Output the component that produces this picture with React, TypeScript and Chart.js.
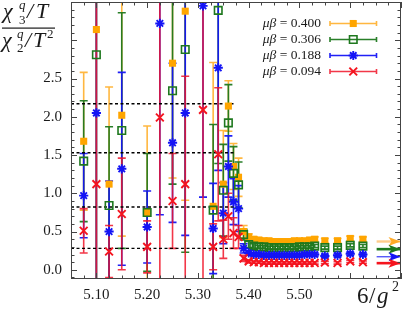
import React, { useEffect, useRef } from 'react';
import { Chart, registerables } from 'chart.js';
import { drawPoint } from 'chart.js/helpers';

Chart.register(...registerables);

// ---------------- data ----------------
const betas = [5.075, 5.10, 5.125, 5.15, 5.20, 5.225, 5.25, 5.275, 5.31, 5.33, 5.34, 5.35, 5.36, 5.37, 5.38,
  5.39, 5.40, 5.41, 5.42, 5.43, 5.44, 5.45, 5.46, 5.47, 5.48, 5.49, 5.50, 5.51, 5.52, 5.53,
  5.55, 5.575, 5.60, 5.625];

const orangeVals = [1.68, 3.14, 1.12, 2.02, 0.75, null, 2.70, 3.38, null, 0.83, null, 1.12, 2.14, 1.35, 1.21,
  0.50, 0.43, 0.40, 0.39, 0.38, 0.38, 0.37, 0.37, 0.37, 0.37, 0.38, 0.38, 0.38, 0.39, 0.40,
  0.38, 0.38, 0.41, 0.40];
const orangeErr = [0.90, 5, 1.27, 1.58, 1.13, null, 1.5, 2.47, null, 1.88, null, 0.70, 0.33, 0.30, 0.25,
  0.08, 0.04, 0.03, 0.03, 0.03, 0.02, 0.02, 0.02, 0.02, 0.02, 0.02, 0.02, 0.02, 0.02, 0.03,
  0.03, 0.03, 0.03, 0.03];

const greenVals = [1.42, 2.81, 0.84, 1.82, 0.75, null, 2.34, 2.88, null, 0.78, 3.39, 1.04, 1.92, 1.26, 1.11,
  0.46, 0.33, 0.31, 0.30, 0.30, 0.29, 0.29, 0.29, 0.29, 0.29, 0.29, 0.30, 0.30, 0.30, 0.31,
  0.29, 0.29, 0.32, 0.31];
const greenErr = [0.79, 5, 1.03, 1.54, 0.77, null, 1.22, 2.65, null, 1.12, 2.0, 0.6, 0.5, 0.35, 0.3,
  0.07, 0.04, 0.03, 0.02, 0.02, 0.02, 0.02, 0.02, 0.02, 0.02, 0.02, 0.02, 0.02, 0.02, 0.02,
  0.02, 0.02, 0.02, 0.02];

const blueVals = [0.97, 2.05, 0.50, 1.32, 0.56, 3.22, 1.66, 2.05, 3.45, 0.54, 2.64, 0.74, 1.35, 0.89, 0.80,
  0.28, 0.22, 0.20, 0.20, 0.19, 0.19, 0.19, 0.19, 0.19, 0.19, 0.19, 0.19, 0.20, 0.20, 0.20,
  0.18, 0.19, 0.21, 0.20];
const blueErr = [0.55, 5, 0.66, 1.26, 0.47, 2.5, 1.04, 1.6, 2.5, 0.59, 1.34, 0.4, 0.4, 0.3, 0.3,
  0.06, 0.03, 0.02, 0.02, 0.02, 0.02, 0.02, 0.02, 0.02, 0.02, 0.02, 0.02, 0.02, 0.02, 0.02,
  0.02, 0.02, 0.02, 0.02];

const redVals = [0.51, 1.12, 0.24, 0.73, 0.30, 1.99, 0.90, 1.12, 2.09, 0.30, 1.51, 0.40, 0.70, 0.48, 0.43,
  0.15, 0.11, 0.10, 0.10, 0.09, 0.09, 0.09, 0.09, 0.09, 0.09, 0.09, 0.09, 0.09, 0.09, 0.09,
  0.095, 0.09, 0.11, 0.10];
const redErr = [0.29, 5, 0.34, 0.73, 0.34, 5, 0.62, 1.41, 5, 0.3, 0.87, 0.25, 0.3, 0.2, 0.15,
  0.04, 0.02, 0.015, 0.015, 0.015, 0.015, 0.015, 0.015, 0.015, 0.015, 0.015, 0.015, 0.015, 0.015, 0.015,
  0.015, 0.015, 0.015, 0.015];

const muLabels = ['0.400', '0.306', '0.188', '0.094'];
const dashLevels = [2.17, 1.53, 0.82, 0.28];
const dashRange = [5.05, 5.375];
const sbLimits = [0.37, 0.27, 0.17, 0.087];
const arrowRange = [5.652, 5.699];
const xTickValues = [5.1, 5.2, 5.3, 5.4, 5.5];
const xTickLabels = ['5.10', '5.20', '5.30', '5.40', '5.50'];
const yTickValues = [0, 0.5, 1.0, 1.5, 2.0, 2.5];
const yTickLabels = ['0.0', '0.5', '1.0', '1.5', '2.0', '2.5'];

// ---------------- styles ----------------
const SERIF = "'Liberation Serif','DejaVu Serif',serif";
const INK = '#1a1a1a';
const ORANGE = 'rgb(255,165,0)';
const GREEN = 'rgb(30,120,30)';
const BLUE = 'rgb(20,20,245)';
const RED = 'rgb(245,20,30)';

const series = [
  { label: muLabels[0], vals: orangeVals, errs: orangeErr, color: ORANGE, err: 'rgba(255,170,30,0.85)', style: 'rect', r: 5, fill: ORANGE, bw: 0, order: 4, arrow: 'rgba(255,205,140,1)', arrowW: 2.4, head: 'rgb(255,170,40)' },
  { label: muLabels[1], vals: greenVals, errs: greenErr, color: GREEN, err: 'rgba(30,120,30,0.95)', style: 'rect', r: 5.3, fill: 'rgba(0,0,0,0)', bw: 1.6, order: 3, arrow: GREEN, arrowW: 2.6, head: GREEN },
  { label: muLabels[2], vals: blueVals, errs: blueErr, color: BLUE, err: 'rgba(20,20,245,0.95)', style: 'star', r: 4.6, fill: BLUE, bw: 1.9, order: 2, arrow: BLUE, arrowW: 1, head: BLUE },
  { label: muLabels[3], vals: redVals, errs: redErr, color: RED, err: 'rgba(240,20,40,0.85)', style: 'crossRot', r: 5.5, fill: RED, bw: 1.9, order: 1, arrow: RED, arrowW: 2.6, head: RED },
];

const errorBarPlugin = {
  id: 'errorBars',
  beforeDatasetsDraw(chart: any) {
    const { ctx, chartArea: a, scales } = chart;
    const xs = scales.x, ys = scales.y;
    ctx.save();
    ctx.beginPath();
    ctx.rect(a.left, a.top, a.right - a.left, a.bottom - a.top);
    ctx.clip();
    const list = chart.data.datasets.filter((d: any) => d.errColor).slice().sort((p: any, q: any) => q.order - p.order);
    for (const ds of list) {
      ctx.strokeStyle = ds.errColor;
      ctx.lineWidth = 1.6;
      for (const p of ds.data) {
        if (p.y == null || p.e == null) continue;
        const px = xs.getPixelForValue(p.x);
        const y1 = ys.getPixelForValue(p.y + p.e);
        const y2 = ys.getPixelForValue(p.y - p.e);
        ctx.beginPath();
        ctx.moveTo(px, y1); ctx.lineTo(px, y2);
        ctx.moveTo(px - 4, y1); ctx.lineTo(px + 4, y1);
        ctx.moveTo(px - 4, y2); ctx.lineTo(px + 4, y2);
        ctx.stroke();
      }
    }
    ctx.restore();
  },
};

const arrowPlugin = {
  id: 'arrowHeads',
  afterDatasetsDraw(chart: any) {
    const { ctx, scales } = chart;
    ctx.save();
    for (const ds of chart.data.datasets) {
      if (!ds.headColor) continue;
      const p = ds.data[ds.data.length - 1];
      const x = scales.x.getPixelForValue(p.x);
      const y = scales.y.getPixelForValue(p.y);
      ctx.fillStyle = ds.headColor;
      ctx.beginPath();
      ctx.moveTo(x, y);
      ctx.lineTo(x - 12, y - 4.5);
      ctx.lineTo(x - 9, y);
      ctx.lineTo(x - 12, y + 4.5);
      ctx.closePath();
      ctx.fill();
    }
    ctx.restore();
  },
};

const framePlugin = {
  id: 'frameAndText',
  afterDraw(chart: any) {
    const { ctx, chartArea: a, scales } = chart;
    const xs = scales.x, ys = scales.y;
    ctx.save();
    // frame
    ctx.strokeStyle = '#444';
    ctx.lineWidth = 1;
    ctx.strokeRect(a.left + 0.5, a.top + 0.5, a.right - a.left - 1, a.bottom - a.top - 1);
    // ticks
    ctx.beginPath();
    for (let k = 202; k <= 228; k++) {
      const px = Math.round(xs.getPixelForValue(k * 0.025)) + 0.5;
      const len = k % 4 === 0 ? 6 : 3.5;
      ctx.moveTo(px, a.bottom); ctx.lineTo(px, a.bottom - len);
      ctx.moveTo(px, a.top); ctx.lineTo(px, a.top + len);
    }
    for (let k = -1; k <= 35; k++) {
      const py = Math.round(ys.getPixelForValue(k / 10)) + 0.5;
      const len = k % 5 === 0 ? 6 : 3.5;
      ctx.moveTo(a.left, py); ctx.lineTo(a.left + len, py);
      ctx.moveTo(a.right, py); ctx.lineTo(a.right - len, py);
    }
    ctx.stroke();

    // legend
    ctx.textBaseline = 'middle';
    series.forEach((s, i) => {
      const y = a.top + 21.5 + 16 * i;
      const xr = a.right - 80;
      ctx.fillStyle = INK;
      ctx.font = `13.5px ${SERIF}`;
      ctx.textAlign = 'right';
      const rest = ' = ' + s.label;
      ctx.fillText(rest, xr, y);
      const w = ctx.measureText(rest).width;
      ctx.font = `italic 13.5px ${SERIF}`;
      ctx.fillText('μβ', xr - w, y);
      // line with caps
      const x0 = a.right - 71, x1 = a.right - 24.5, xm = (x0 + x1) / 2;
      ctx.strokeStyle = s.err;
      ctx.lineWidth = 1.6;
      ctx.beginPath();
      ctx.moveTo(x0, y); ctx.lineTo(x1, y);
      ctx.moveTo(x0, y - 2.5); ctx.lineTo(x0, y + 2.5);
      ctx.moveTo(x1, y - 2.5); ctx.lineTo(x1, y + 2.5);
      ctx.stroke();
      ctx.fillStyle = s.fill;
      ctx.strokeStyle = s.color;
      ctx.lineWidth = s.bw || 0.01;
      drawPoint(ctx, { pointStyle: s.style, radius: s.r, rotation: 0, borderWidth: s.bw }, xm, y);
    });

    // y title (fraction)
    ctx.fillStyle = INK;
    ctx.textAlign = 'left';
    ctx.textBaseline = 'alphabetic';
    const it = (t: string, x: number, y: number, size: number, italic = true) => {
      ctx.font = `${italic ? 'italic ' : ''}${size}px ${SERIF}`;
      ctx.fillText(t, x, y);
    };
    it('χ', 3, 18, 22);
    it('q', 19, 9, 13);
    it('3', 19, 24, 13, false);
    it('/', 27, 18, 22);
    it('T', 36, 18, 22);
    ctx.fillRect(2, 27.5, 53, 1.2);
    it('χ', 2, 47, 22);
    it('q', 17, 38, 13);
    it('2', 17, 52, 13, false);
    it('/', 25, 47, 22);
    it('T', 33, 47, 22);
    it('2', 47, 38, 13, false);

    // x title
    it('6', 357, 303, 23, false);
    it('/', 369, 303, 23, false);
    it('g', 377, 303, 23);
    it('2', 392, 291, 14, false);
    ctx.restore();
  },
};

export default function App() {
  const ref = useRef<HTMLCanvasElement>(null);
  useEffect(() => {
    document.body.style.margin = '0';
    const canvas = ref.current!;
    const datasets: any[] = [];
    dashLevels.forEach((lv) => {
      datasets.push({
        data: [{ x: dashRange[0], y: lv }, { x: dashRange[1], y: lv }],
        showLine: true, borderColor: '#000', borderWidth: 1.4, borderDash: [3, 2.5],
        pointRadius: 0, order: 7,
      });
    });
    series.forEach((s, i) => {
      datasets.push({
        data: [{ x: arrowRange[0], y: sbLimits[i] }, { x: arrowRange[1] - 0.012, y: sbLimits[i] }, { x: arrowRange[1], y: sbLimits[i] }],
        showLine: true, borderColor: s.arrow, borderWidth: s.arrowW, pointRadius: 0,
        headColor: s.head, order: 6,
      });
    });
    series.forEach((s) => {
      const pts = betas.map((b, i) => ({ x: b, y: s.vals[i], e: s.errs[i] })).filter((p) => p.y !== null);
      datasets.push({
        data: pts, showLine: false, order: s.order, errColor: s.err,
        pointStyle: s.style, pointRadius: s.r, backgroundColor: s.fill, borderColor: s.color,
        borderWidth: s.bw, pointBorderWidth: s.bw,
      });
    });
    const zeroPad = (s: any) => { s.paddingTop = 0; s.paddingBottom = 0; s.paddingLeft = 0; s.paddingRight = 0; };
    const chart = new Chart(canvas, {
      type: 'scatter',
      data: { datasets },
      options: {
        animation: false,
        responsive: false,
        events: [],
        layout: { autoPadding: false, padding: { top: 2, right: 2, left: 0, bottom: 0 } },
        plugins: { legend: { display: false }, tooltip: { enabled: false } },
        scales: {
          x: {
            type: 'linear', min: 5.05, max: 5.70,
            afterFit: (s: any) => { s.height = 36; zeroPad(s); },
            afterBuildTicks: (s: any) => { s.ticks = xTickValues.map((v) => ({ value: v })); },
            grid: { display: false, drawTicks: false },
            border: { display: false },
            ticks: {
              padding: 7, color: INK, maxRotation: 0, autoSkip: false,
              font: { family: SERIF, size: 15 },
              callback: (v: any) => xTickLabels[xTickValues.findIndex((t) => Math.abs(t - Number(v)) < 1e-6)] ?? null,
            },
          },
          y: {
            type: 'linear', min: -0.12, max: 3.5,
            afterFit: (s: any) => { s.width = 71; zeroPad(s); },
            afterBuildTicks: (s: any) => { s.ticks = yTickValues.map((v) => ({ value: v })); },
            grid: { display: false, drawTicks: false },
            border: { display: false },
            ticks: {
              padding: 9, color: INK, autoSkip: false,
              font: { family: SERIF, size: 15 },
              callback: (v: any) => yTickLabels[yTickValues.findIndex((t) => Math.abs(t - Number(v)) < 1e-6)] ?? null,
            },
          },
        },
      } as any,
      plugins: [errorBarPlugin, arrowPlugin, framePlugin],
    });
    return () => chart.destroy();
  }, []);
  return (
    <div style={{ width: 403, height: 315 }}>
      <canvas ref={ref} width={403} height={315} style={{ display: 'block' }} />
    </div>
  );
}
